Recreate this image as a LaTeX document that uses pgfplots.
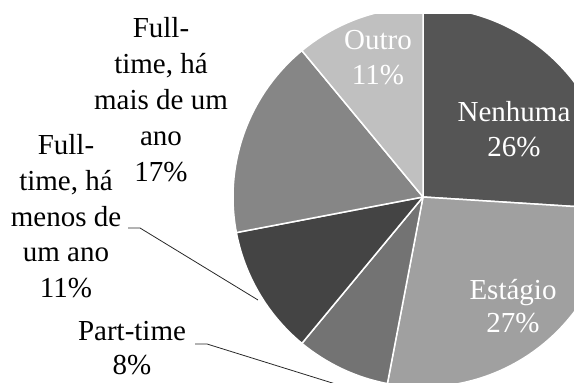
\documentclass[border=0pt]{standalone}
\usepackage{pgfplots}
\usepackage{pgfplotstable}
\pgfplotsset{compat=1.18}
\usepackage{fontspec}
\setmainfont{Liberation Serif}

\definecolor{slice0}{RGB}{85,85,85}
\definecolor{slice1}{RGB}{160,160,160}
\definecolor{slice2}{RGB}{115,115,115}
\definecolor{slice3}{RGB}{68,68,68}
\definecolor{slice4}{RGB}{134,134,134}
\definecolor{slice5}{RGB}{192,192,192}
\definecolor{leader}{RGB}{40,40,40}

% share (%) of each category, clockwise from 12 o'clock
\pgfplotstableread{
name value
Nenhuma 26
Estagio 27
Parttime 8
FTmenos 11
FTmais 17
Outro 11
}\piedata

\newcommand{\lbl}{\fontsize{29}{35}\selectfont}

\begin{document}
\begin{tikzpicture}
\useasboundingbox (0,0) rectangle (574pt,383pt);
\clip (0,0) rectangle (574pt,383pt);
\begin{axis}[scale only axis, width=574pt, height=383pt,
  xmin=0, xmax=574, ymin=0, ymax=383, hide axis, clip=false,
  anchor=south west, at={(0,0)}]
\pgfplotsextra{%
  \begin{scope}
  \clip (axis cs:0,0) rectangle (axis cs:574,368);
  \xdef\cum{90}%
  \pgfplotstableforeachcolumnelement{value}\of\piedata\as\v{%
    \pgfmathsetmacro\endang{\cum - \v*3.6}%
    \fill[color=slice\pgfplotstablerow, draw=white, line width=1.5pt, line join=round]
      (axis cs:423,186) -- ++(\cum:190pt) arc[start angle=\cum, end angle=\endang, radius=190pt] -- cycle;
    \xdef\cum{\endang}%
  }%
  \end{scope}
}
% leader lines
\addplot[leader, line width=0.8pt, mark=none] coordinates {(128,155) (140,155) (258,83)};
\addplot[leader, line width=0.8pt, mark=none] coordinates {(195,39) (207,39) (342,-3)};

% labels inside
\node[white, font=\lbl, anchor=base] at (axis cs:378,333) {Outro};
\node[white, font=\lbl, anchor=base] at (axis cs:378,298) {11\%};
\node[white, font=\lbl, anchor=base] at (axis cs:514,261) {Nenhuma};
\node[white, font=\lbl, anchor=base] at (axis cs:514,226) {26\%};
\node[white, font=\lbl, anchor=base] at (axis cs:513,83) {Estágio};
\node[white, font=\lbl, anchor=base] at (axis cs:513,50) {27\%};
% labels outside
\node[black, font=\lbl, anchor=base] at (axis cs:161,345) {Full-};
\node[black, font=\lbl, anchor=base] at (axis cs:161,309) {time, há};
\node[black, font=\lbl, anchor=base] at (axis cs:161,273) {mais de um};
\node[black, font=\lbl, anchor=base] at (axis cs:161,237) {ano};
\node[black, font=\lbl, anchor=base] at (axis cs:161,201) {17\%};
\node[black, font=\lbl, anchor=base] at (axis cs:66,228) {Full-};
\node[black, font=\lbl, anchor=base] at (axis cs:66,192) {time, há};
\node[black, font=\lbl, anchor=base] at (axis cs:66,156) {menos de};
\node[black, font=\lbl, anchor=base] at (axis cs:66,121) {um ano};
\node[black, font=\lbl, anchor=base] at (axis cs:66,85) {11\%};
\node[black, font=\lbl, anchor=base, inner sep=0pt] at (axis cs:132,42) {Part-time};
\node[black, font=\lbl, anchor=base, inner sep=0pt] at (axis cs:132,8) {8\%};
\end{axis}
\end{tikzpicture}
\end{document}
